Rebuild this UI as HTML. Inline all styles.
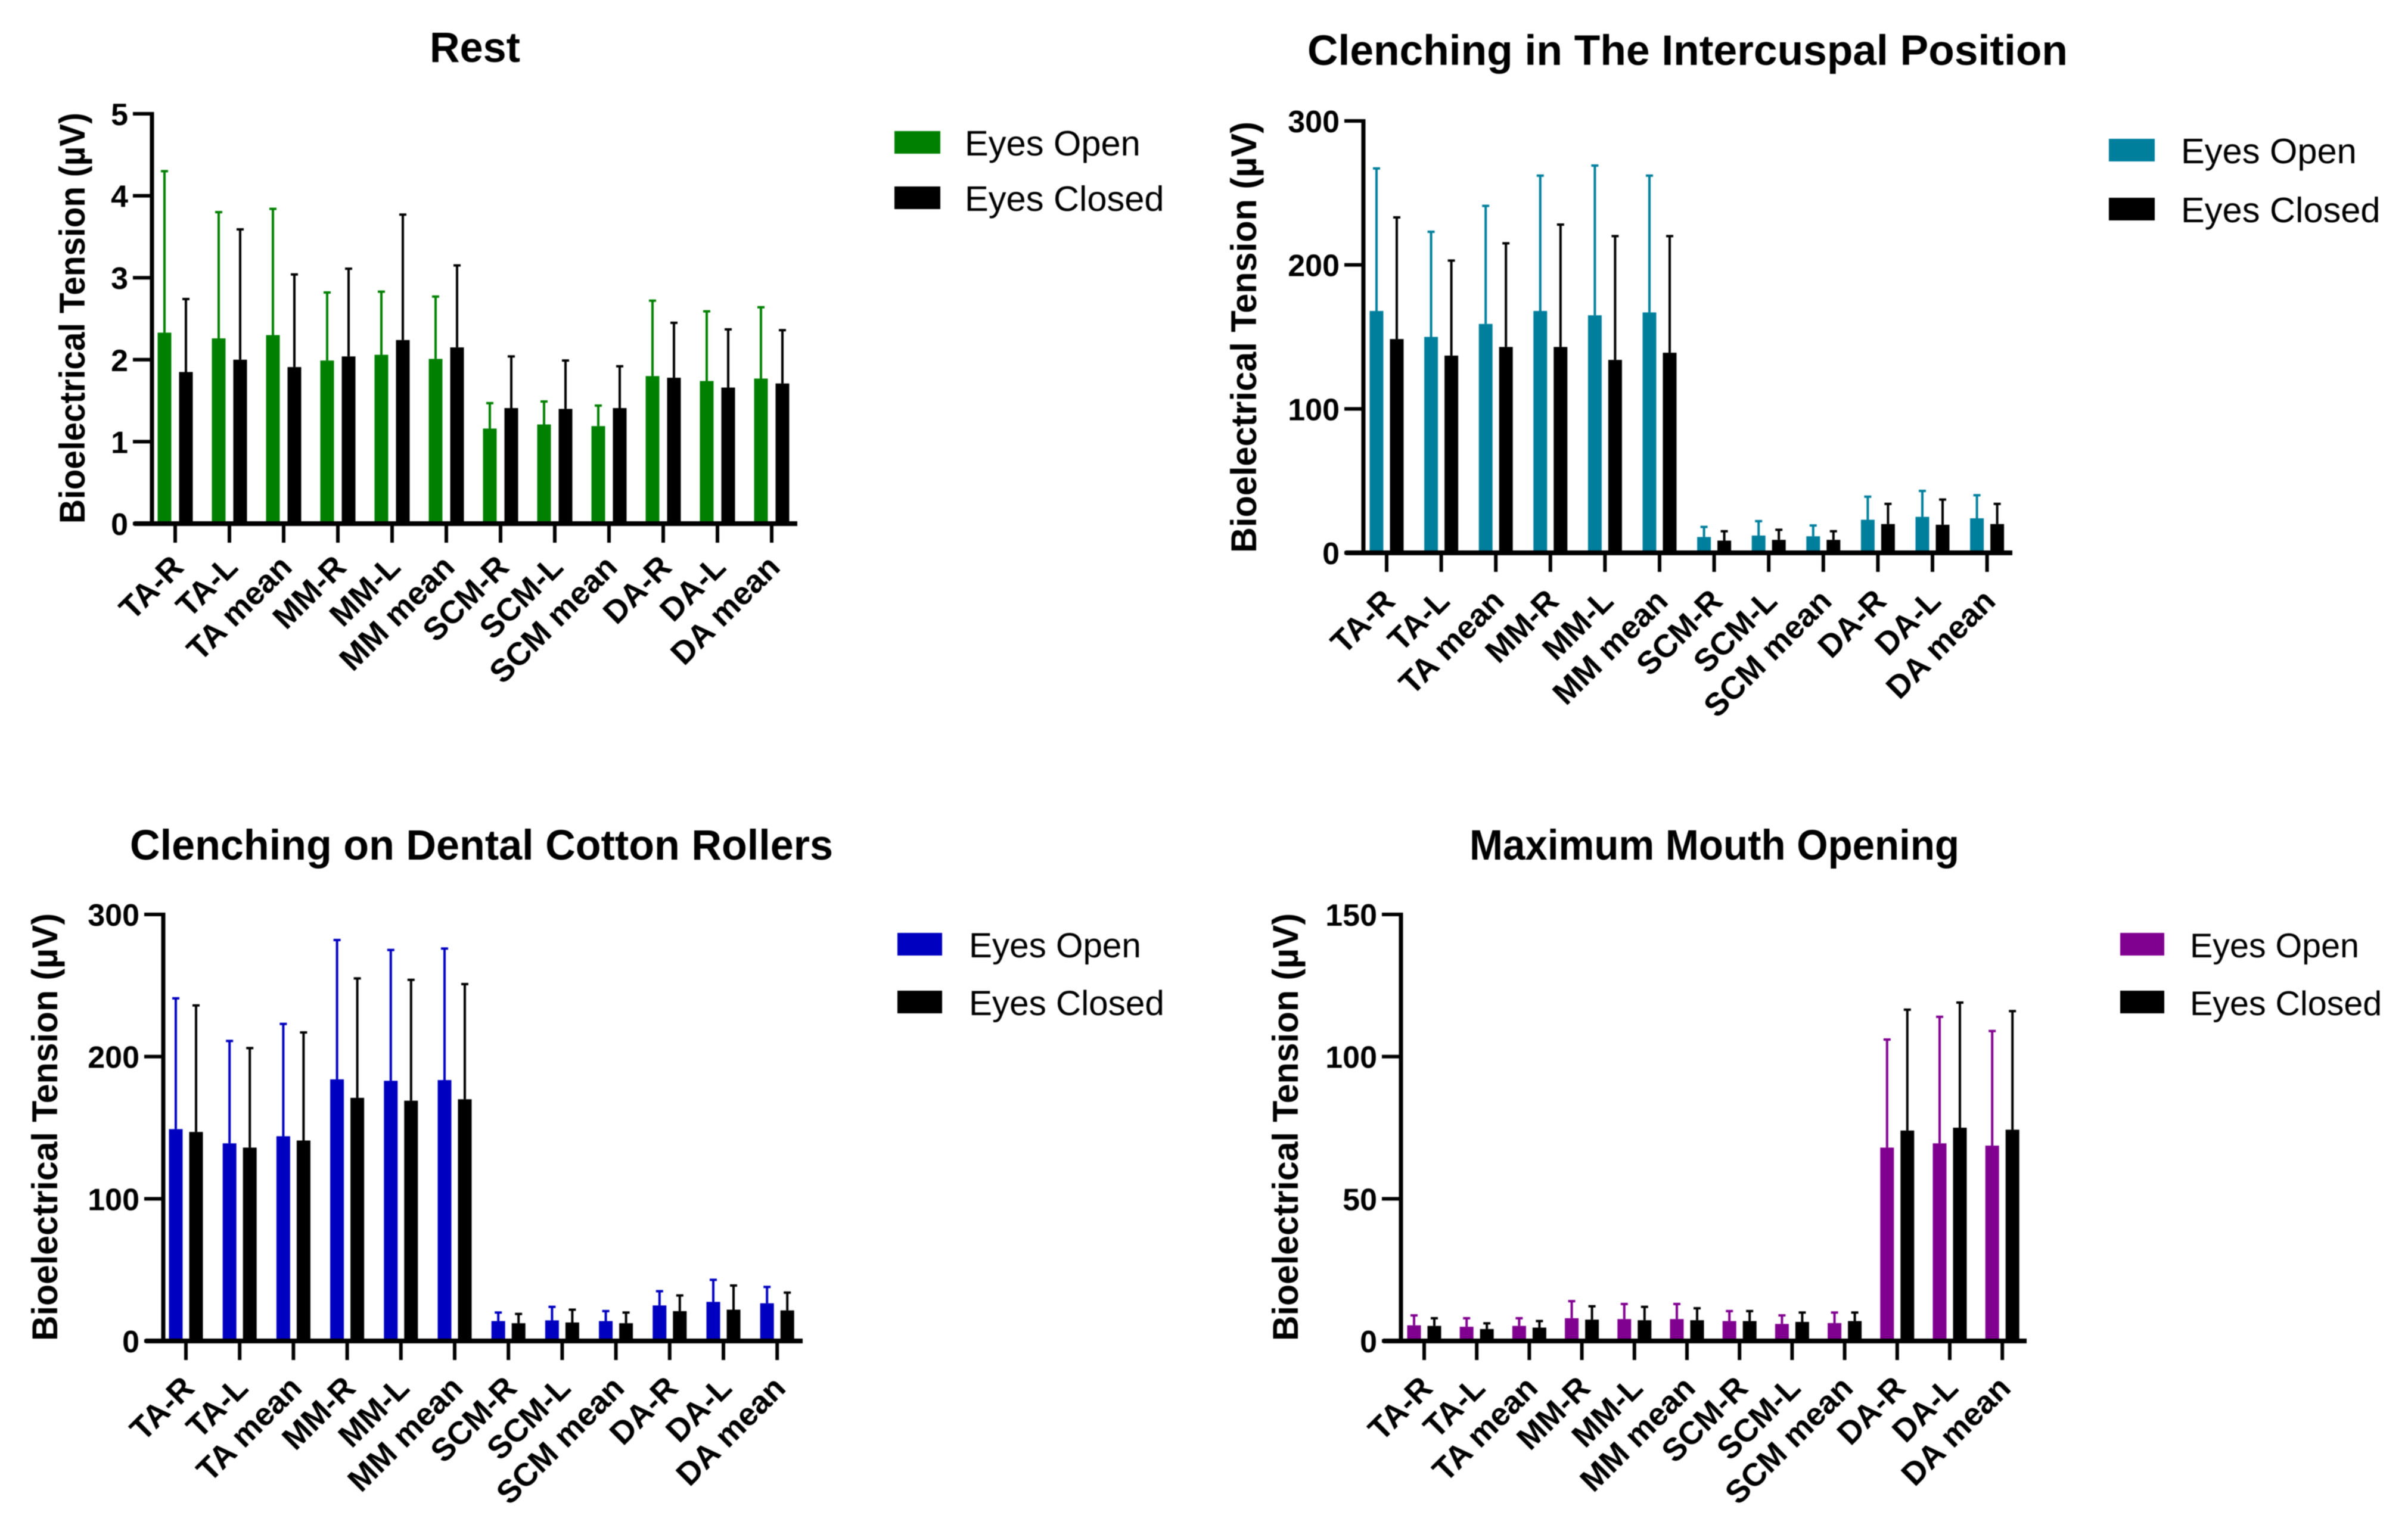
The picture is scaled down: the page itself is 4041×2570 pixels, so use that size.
<!DOCTYPE html>
<html lang="en">
<head>
<meta charset="utf-8">
<title>Bioelectrical Tension by Muscle</title>
<style>
html,body{margin:0;padding:0;background:#fff;}
svg{display:block;filter:blur(0.9px);}
text{font-family:"Liberation Sans",sans-serif;fill:#000;}
</style>
</head>
<body>
<svg id="figure" xmlns="http://www.w3.org/2000/svg" width="4041" height="2570" viewBox="0 0 4041 2570"></svg>
<script>
const categories = ["TA-R","TA-L","TA mean","MM-R","MM-L","MM mean","SCM-R","SCM-L","SCM mean","DA-R","DA-L","DA mean"];
const seriesNames = ["Eyes Open","Eyes Closed"];

const restTicks = [0,1,2,3,4,5];
const restOpenMean = [2.33,2.26,2.30,1.99,2.06,2.01,1.16,1.21,1.19,1.80,1.74,1.77];
const restOpenTop = [4.30,3.80,3.84,2.82,2.83,2.77,1.47,1.49,1.44,2.72,2.59,2.64];
const restClosedMean = [1.85,2.00,1.91,2.04,2.24,2.15,1.41,1.40,1.41,1.78,1.66,1.71];
const restClosedTop = [2.74,3.59,3.04,3.11,3.77,3.15,2.04,1.99,1.92,2.45,2.37,2.36];

const icpTicks = [0,100,200,300];
const icpOpenMean = [168,150,159,168,165,167,11,12,11.5,23,25,24];
const icpOpenTop = [267,223,241,262,269,262,18,22,19,39,43,40];
const icpClosedMean = [148.5,137,143,143,134,139,8.5,9,9,20,19.5,20];
const icpClosedTop = [233,203,215,228,220,220,15,16,15,34,37,34];

const cottonTicks = [0,100,200,300];
const cottonOpenMean = [149,139,144,184,183,183.5,14,14.5,14,25,27.5,26.5];
const cottonOpenTop = [241,211,223,282,275,276,20,24,21,35,43,38];
const cottonClosedMean = [147,136,141,171,169,170,12.5,13,12.5,21,22,21.5];
const cottonClosedTop = [236,206,217,255,254,251,19,22,20,32,39,34];

const mouthTicks = [0,50,100,150];
const mouthOpenMean = [5.5,5,5.3,8,7.7,7.7,7,6,6.3,68,69.5,68.7];
const mouthOpenTop = [9,8,8,14,13,13,10.5,9,10,106,114,109];
const mouthClosedMean = [5.3,4.2,4.7,7.5,7.3,7.3,7,6.7,7,74,75,74.3];
const mouthClosedTop = [8,6.2,7,12.2,12,11.5,10.5,10,10,116.5,119,116];

const svg = document.getElementById('figure');
const NS = 'http://www.w3.org/2000/svg';

function mk(tag, attrs, parent, text) {
  const el = document.createElementNS(NS, tag);
  for (const k in attrs) el.setAttribute(k, attrs[k]);
  if (text !== undefined) el.textContent = text;
  parent.appendChild(el);
  return el;
}

function drawPanel(p) {
  const g = mk('g', {}, svg);
  
  

  const yMax = p.ticks[p.ticks.length - 1];
  const yScale = v => p.y0 - (v / yMax) * (p.y0 - p.yTop);
  const xScale = i => p.x0 + i * p.step;

  const title = mk('text', {x: p.titleX, y: p.titleY, 'font-size': 71, 'font-weight': 'bold', textLength: p.titleW, lengthAdjust: 'spacingAndGlyphs'}, g, p.title);
  
  

  const yLabel = mk('text', {transform: 'translate(' + p.yLabelX + ',' + p.y0 + ') rotate(-90)', x: 0, y: 0, 'font-size': 60, 'font-weight': 'bold', textLength: p.yLabelLen, lengthAdjust: 'spacingAndGlyphs'}, g, 'Bioelectrical Tension (\u00b5V)');
  
  

  // bars and error bars
  const series = [
    {name: 'open', mean: p.openMean, top: p.openTop, color: p.color, dx: -p.offset},
    {name: 'closed', mean: p.closedMean, top: p.closedTop, color: '#000', dx: p.offset}
  ];
  series.forEach(s => {
    s.mean.forEach((v, i) => {
      const cx = xScale(i) + s.dx;
      const bar = mk('rect', {x: cx - p.barW / 2, y: yScale(v), width: p.barW, height: p.y0 - yScale(v), fill: s.color}, g);
      
      
      const stem = mk('line', {x1: cx, x2: cx, y1: yScale(v), y2: yScale(s.top[i]), stroke: s.color, 'stroke-width': 4}, g);
      
      
      const cap = mk('line', {x1: cx - 6, x2: cx + 6, y1: yScale(s.top[i]), y2: yScale(s.top[i]), stroke: s.color, 'stroke-width': 4}, g);
      
      
    });
  });

  // y axis
  const yAxis = mk('line', {x1: p.axisX, x2: p.axisX, y1: p.yTop - 3, y2: p.y0 + 4, stroke: '#000', 'stroke-width': 7}, g);
  
  
  p.ticks.forEach(t => {
    const tick = mk('line', {x1: p.axisX - 32, x2: p.axisX, y1: yScale(t), y2: yScale(t), stroke: '#000', 'stroke-width': 6}, g);
    
    
    const lab = mk('text', {x: p.axisX - 40, y: yScale(t) + 19, 'font-size': 52, 'font-weight': 'bold', 'text-anchor': 'end'}, g, String(t));
    
    
  });

  // x axis
  const xAxis = mk('line', {x1: p.axisX - 30, x2: p.axisEnd, y1: p.y0, y2: p.y0, stroke: '#000', 'stroke-width': 8}, g);
  
  
  categories.forEach((c, i) => {
    const x = xScale(i);
    const tick = mk('line', {x1: x, x2: x, y1: p.y0, y2: p.y0 + 32, stroke: '#000', 'stroke-width': 6}, g);
    
    
    const lab = mk('text', {transform: 'translate(' + (x + 17) + ',' + (p.y0 + p.labelDy) + ') rotate(-45)', x: 0, y: 0, 'font-size': 54, 'font-weight': 'bold', 'text-anchor': 'end'}, g, c);
    
    
  });

  // legend
  const legend = mk('g', {}, g);
  
  
  seriesNames.forEach((n, i) => {
    const swatchY = i === 0 ? p.legendY1 : p.legendY2;
    const sw = mk('rect', {x: p.legendX, y: swatchY, width: p.swatchW, height: 38, fill: i === 0 ? p.color : '#000'}, legend);
    
    
    const t = mk('text', {x: p.legendTextX, y: swatchY + 41, 'font-size': p.legendFont}, legend, n);
    
    
  });
}

drawPanel({
  key: 'rest', title: 'Rest', color: '#008000', ticks: restTicks,
  openMean: restOpenMean, openTop: restOpenTop, closedMean: restClosedMean, closedTop: restClosedTop,
  y0: 879, yTop: 191, axisX: 255, axisEnd: 1338, x0: 294, step: 91, offset: 18, barW: 23, labelDy: 76,
  titleX: 721, titleY: 104, titleW: 152, yLabelX: 142, yLabelLen: 690,
  legendX: 1501, legendY1: 220, legendY2: 313, swatchW: 77, legendTextX: 1619, legendFont: 59.6
});
drawPanel({
  key: 'intercuspal', title: 'Clenching in The Intercuspal Position', color: '#007f9c', ticks: icpTicks,
  openMean: icpOpenMean, openTop: icpOpenTop, closedMean: icpClosedMean, closedTop: icpClosedTop,
  y0: 928, yTop: 203, axisX: 2288, axisEnd: 3377, x0: 2327, step: 91.6, offset: 17, barW: 23, labelDy: 84,
  titleX: 2194, titleY: 109, titleW: 1276, yLabelX: 2108, yLabelLen: 724,
  legendX: 3539, legendY1: 233, legendY2: 332, swatchW: 77, legendTextX: 3660, legendFont: 59.6
});
drawPanel({
  key: 'cotton-rollers', title: 'Clenching on Dental Cotton Rollers', color: '#0000c0', ticks: cottonTicks,
  openMean: cottonOpenMean, openTop: cottonOpenTop, closedMean: cottonClosedMean, closedTop: cottonClosedTop,
  y0: 2251, yTop: 1535, axisX: 274, axisEnd: 1347, x0: 312, step: 90.2, offset: 17, barW: 23, labelDy: 82,
  titleX: 218, titleY: 1443, titleW: 1180, yLabelX: 96, yLabelLen: 718,
  legendX: 1506, legendY1: 1566, legendY2: 1663, swatchW: 75, legendTextX: 1626, legendFont: 58.4
});
drawPanel({
  key: 'mouth-opening', title: 'Maximum Mouth Opening', color: '#80008f', ticks: mouthTicks,
  openMean: mouthOpenMean, openTop: mouthOpenTop, closedMean: mouthClosedMean, closedTop: mouthClosedTop,
  y0: 2251, yTop: 1535, axisX: 2351, axisEnd: 3401, x0: 2390, step: 88.2, offset: 17, barW: 23, labelDy: 82,
  titleX: 2466, titleY: 1443, titleW: 822, yLabelX: 2178, yLabelLen: 718,
  legendX: 3558, legendY1: 1566, legendY2: 1663, swatchW: 74, legendTextX: 3675, legendFont: 57.4
});
</script>
</body>
</html>
